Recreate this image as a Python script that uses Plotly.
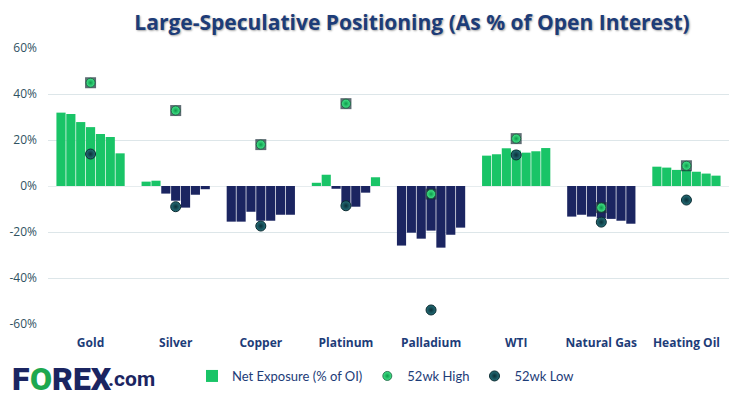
import plotly.graph_objects as go

categories = ["Gold", "Silver", "Copper", "Platinum", "Palladium", "WTI", "Natural Gas", "Heating Oil"]

# Net exposure (% of OI), 7 consecutive weeks per market
gold = [31.9, 31.3, 27.8, 25.6, 22.6, 21.3, 14.2]
silver = [1.9, 2.3, -3.3, -6.4, -9.4, -3.8, -1.4]
copper = [-15.5, -15.5, -11.2, -15.1, -15.1, -12.5, -12.5]
platinum = [1.4, 4.9, -1.2, -7.5, -9.0, -2.9, 3.8]
palladium = [-25.9, -20.3, -22.9, -19.4, -26.8, -21.2, -18.1]
wti = [13.2, 13.8, 16.4, 15.4, 14.5, 15.1, 16.5]
natural_gas = [-13.3, -12.5, -13.3, -14.1, -14.3, -15.1, -16.4]
heating_oil = [8.4, 8.0, 7.0, 7.0, 6.2, 5.4, 4.5]

high_52wk = [44.9, 32.8, 18.0, 35.8, -3.5, 20.6, -9.4, 8.8]
low_52wk = [13.9, -9.0, -17.4, -8.6, -53.9, 13.5, -15.7, -6.1]

y_ticks = [-60, -40, -20, 0, 20, 40, 60]
y_tick_labels = ["-60%", "-40%", "-20%", "0%", "20%", "40%", "60%"]

GREEN = "#19C467"
NAVY = "#1B2561"
TITLE_NAVY = "#1D3C78"

markets = [gold, silver, copper, platinum, palladium, wti, natural_gas, heating_oil]
n_weeks = len(gold)

# page has an 8px body margin; figure is sized/offset to compensate
W, H = 733, 390
L, R, T, B = 40, 12, 40, 74
PW, PH = W - L - R, H - T - B

fig = go.Figure()
for w in range(n_weeks):
    vals = [m[w] for m in markets]
    cols = [GREEN if v >= 0 else NAVY for v in vals]
    fig.add_trace(go.Bar(
        x=categories, y=vals, marker=dict(color=cols, line=dict(width=0)),
        name="Net Exposure (% of OI)", legendgroup="net",
        showlegend=(w == 0),
    ))

# dark square halo behind the 52wk-high markers
fig.add_trace(go.Scatter(
    x=categories, y=high_52wk, mode="markers", showlegend=False, hoverinfo="skip",
    marker=dict(symbol="square", size=11, color="rgba(25,45,55,0.7)", line=dict(width=0)),
))
fig.add_trace(go.Scatter(
    x=categories, y=high_52wk, mode="markers", name="52wk High",
    marker=dict(symbol="circle", size=9, color="#45E88C",
                gradient=dict(type="radial", color="#0C9A4A"),
                line=dict(color="#155A3A", width=0.8)),
))
fig.add_trace(go.Scatter(
    x=categories, y=low_52wk, mode="markers", name="52wk Low",
    marker=dict(symbol="circle", size=10, color="#25707A",
                gradient=dict(type="radial", color="#0A3038"),
                line=dict(color="#0A2A30", width=1)),
))

def px_x(page_px):
    return (page_px - 8 - L) / PW

def px_y(page_py):
    return (T + PH - (page_py - 8)) / PH

annotations = [
    dict(text="F", x=px_x(10), y=px_y(379), xanchor="left", yanchor="middle",
         font=dict(family="Roboto", size=32, color=NAVY, weight=900)),
    dict(text="O", x=px_x(28), y=px_y(379), xanchor="left", yanchor="middle",
         font=dict(family="Roboto", size=32, color="#1DA84F", weight=900)),
    dict(text="REX", x=px_x(50), y=px_y(379), xanchor="left", yanchor="middle",
         font=dict(family="Roboto", size=32, color=NAVY, weight=900)),
    dict(text=".com", x=px_x(106), y=px_y(379), xanchor="left", yanchor="middle",
         font=dict(family="Roboto", size=21, color=NAVY, weight=700)),
]
for a in annotations:
    a.update(xref="paper", yref="paper", showarrow=False)

fig.update_layout(
    width=W, height=H,
    margin=dict(l=L, r=R, t=T, b=B, autoexpand=False),
    paper_bgcolor="white", plot_bgcolor="white",
    barmode="group", bargap=0.19, bargroupgap=0.07,
    title=dict(text="Large-Speculative Positioning (As % of Open Interest)",
               x=(412 - 8) / W, xanchor="center", y=1 - 7 / H, yanchor="top",
               font=dict(family="Open Sans", size=21, color=TITLE_NAVY, weight=700,
                         shadow="1px 1px 2px rgba(0,0,0,0.35)")),
    xaxis=dict(showgrid=False, showline=False, ticks="", automargin=False,
               tickfont=dict(family="Open Sans", size=12, color=TITLE_NAVY, weight=700),
               ticklabelstandoff=10),
    yaxis=dict(range=[-60, 60], tickvals=y_ticks, ticktext=y_tick_labels, automargin=False,
               showgrid=True, gridcolor="#DDE6E9", gridwidth=1,
               zeroline=True, zerolinecolor="#E6ECEE", zerolinewidth=1,
               showline=False, ticks="",
               tickfont=dict(family="Open Sans", size=12, color="#2F5262"),
               ticklabelstandoff=10),
    legend=dict(orientation="h", xref="container", yref="container",
                x=(192 - 8) / W, xanchor="left", y=1 - (376 - 8) / H, yanchor="middle",
                font=dict(family="Lato", size=13, color=TITLE_NAVY),
                itemwidth=30, bgcolor="rgba(0,0,0,0)", traceorder="normal"),
    annotations=annotations,
    showlegend=True,
)

fig.write_html("out.html")
